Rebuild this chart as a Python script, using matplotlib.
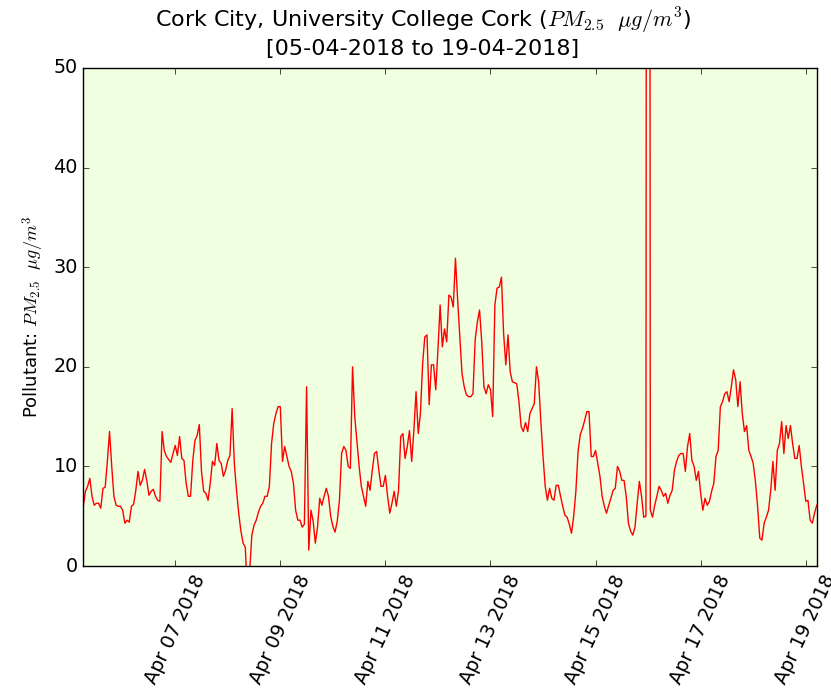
import matplotlib
matplotlib.use("Agg")
import matplotlib.pyplot as plt
import matplotlib.dates as mdates
import pandas as pd

plt.style.use("classic")

start_time = "2018-04-05 06:00"
pm25 = [
    # Apr 5 06:00 ->
    6.0, 7.5, 8.0, 8.8, 7.0, 6.1, 6.3, 6.3, 5.8, 7.8, 7.9, 10.5, 13.5, 10.0, 7.0, 6.1, 6.0, 6.0,
    # Apr 6 00:00 ->
    5.6, 4.3, 4.6, 4.4, 6.0, 6.2, 7.6, 9.5, 8.1, 8.6, 9.7, 8.6, 7.1, 7.5, 7.7, 7.0, 6.6, 6.5,
    13.5, 11.6, 11.0, 10.7, 10.4, 11.3,
    # Apr 7 00:00 ->
    12.1, 11.1, 13.0, 10.8, 10.6, 8.3, 7.0, 7.0, 10.5, 12.6, 13.1, 14.2, 9.5, 7.5, 7.3, 6.6,
    8.3, 10.5, 10.1, 12.3, 10.6, 10.3, 9.0, 9.6,
    # Apr 8 00:00 ->
    10.6, 11.1, 15.8, 10.3, 7.6, 5.3, 3.5, 2.3, 1.9, -3.0, -0.5, 3.1, 4.1, 4.6, 5.4, 6.0,
    6.3, 7.0, 7.0, 8.0, 12.3, 14.3, 15.3, 16.0,
    # Apr 9 00:00 ->
    16.0, 10.5, 12.0, 11.0, 10.0, 9.5, 8.3, 5.6, 4.6, 4.6, 3.9, 4.2, 18.0, 1.6, 5.6, 4.5,
    2.3, 3.9, 6.8, 6.1, 7.0, 7.8, 7.0, 5.0,
    # Apr 10 00:00 ->
    4.0, 3.4, 4.5, 6.6, 11.3, 12.0, 11.6, 10.0, 9.8, 20.0, 15.0, 12.5, 10.0, 8.0, 7.0, 6.0,
    8.5, 7.6, 9.6, 11.3, 11.5, 9.6, 8.0, 8.0,
    # Apr 11 00:00 ->
    9.1, 7.0, 5.3, 6.3, 7.5, 6.0, 7.6, 13.0, 13.3, 10.8, 12.0, 13.6, 10.5, 13.6, 17.5, 13.3,
    15.3, 20.3, 23.0, 23.2, 16.2, 20.2, 20.2, 17.7,
    # Apr 12 00:00 ->
    21.7, 26.2, 22.0, 23.8, 22.5, 27.2, 27.0, 26.0, 30.9, 26.7, 23.0, 19.3, 18.0, 17.2, 17.0, 17.0,
    17.3, 22.7, 24.5, 25.7, 22.5, 18.0, 17.3, 18.2,
    # Apr 13 00:00 ->
    17.7, 15.0, 26.2, 27.9, 28.0, 29.0, 23.3, 20.2, 23.2, 19.5, 18.5, 18.4, 18.3, 16.5, 14.0, 13.5,
    14.4, 13.5, 15.3, 15.8, 16.3, 20.0, 18.5, 14.5,
    # Apr 14 00:00 ->
    11.0, 8.0, 6.6, 7.8, 6.8, 6.6, 8.1, 8.1, 7.0, 6.0, 5.1, 4.9, 4.2, 3.3, 5.0, 7.5,
    11.5, 13.2, 13.8, 14.6, 15.5, 15.5, 11.0, 11.0,
    # Apr 15 00:00 ->
    11.6, 10.3, 9.0, 7.0, 6.0, 5.3, 6.1, 6.8, 7.6, 7.8, 10.0, 9.5, 8.6, 8.6, 7.0, 4.3,
    3.5, 3.1, 3.9, 6.3, 8.5, 7.0, 4.9, 5.0,
    # Apr 16 00:00 ->
    350.0, 5.6, 4.9, 6.1, 7.0, 8.0, 7.6, 7.0, 7.3, 6.3, 7.1, 7.6, 9.6, 10.5, 11.1, 11.3,
    11.3, 9.5, 12.0, 13.3, 10.6, 10.0, 8.6, 9.5,
    # Apr 17 00:00 ->
    7.3, 5.6, 6.8, 6.1, 6.5, 7.5, 8.3, 11.0, 11.6, 16.0, 16.5, 17.3, 17.5, 16.5, 18.0, 19.7,
    18.7, 16.0, 18.5, 15.3, 13.5, 14.1, 11.6, 11.0,
    # Apr 18 00:00 ->
    10.3, 8.5, 6.0, 2.8, 2.6, 4.3, 4.9, 5.6, 7.6, 10.5, 7.6, 11.6, 12.3, 14.5, 11.3, 14.1,
    12.8, 14.1, 12.3, 10.8, 10.8, 12.1, 10.0, 8.3,
    # Apr 19 00:00 ->
    6.5, 6.6, 4.6, 4.3, 5.3, 6.1,
]
times = pd.date_range(start_time, periods=len(pm25), freq="h")

title_text = ("Cork City, University College Cork ($PM_{2.5}\\ \\ \\mu g/m^3$)\n"
              "[05-04-2018 to 19-04-2018]")
ylabel_text = "Pollutant: $PM_{2.5}\\ \\ \\mu g/m^3$"

fig = plt.figure(figsize=(8.31, 6.88), dpi=100, facecolor="white")
ax = fig.add_axes([0.1002, 0.1773, 0.8826, 0.7239])
ax.set_facecolor("#f0ffe0")
ax.plot(times, pm25, color="red", linewidth=1.0)
ax.set_xlim(times[0], times[-1])
ax.set_ylim(0, 50)
ax.set_yticks([0, 10, 20, 30, 40, 50])
ax.xaxis.set_major_locator(mdates.DayLocator(bymonthday=[7, 9, 11, 13, 15, 17, 19]))
ax.xaxis.set_major_formatter(mdates.DateFormatter("%b %d %Y"))
ax.tick_params(labelsize=13.8)
for lab in ax.get_xticklabels():
    lab.set_rotation(65)
    lab.set_ha("center")
ax.set_title(title_text, fontsize=16, pad=9, x=0.463)
ax.set_ylabel(ylabel_text, fontsize=13)
fig.savefig("out.png", dpi=100, facecolor="white")
